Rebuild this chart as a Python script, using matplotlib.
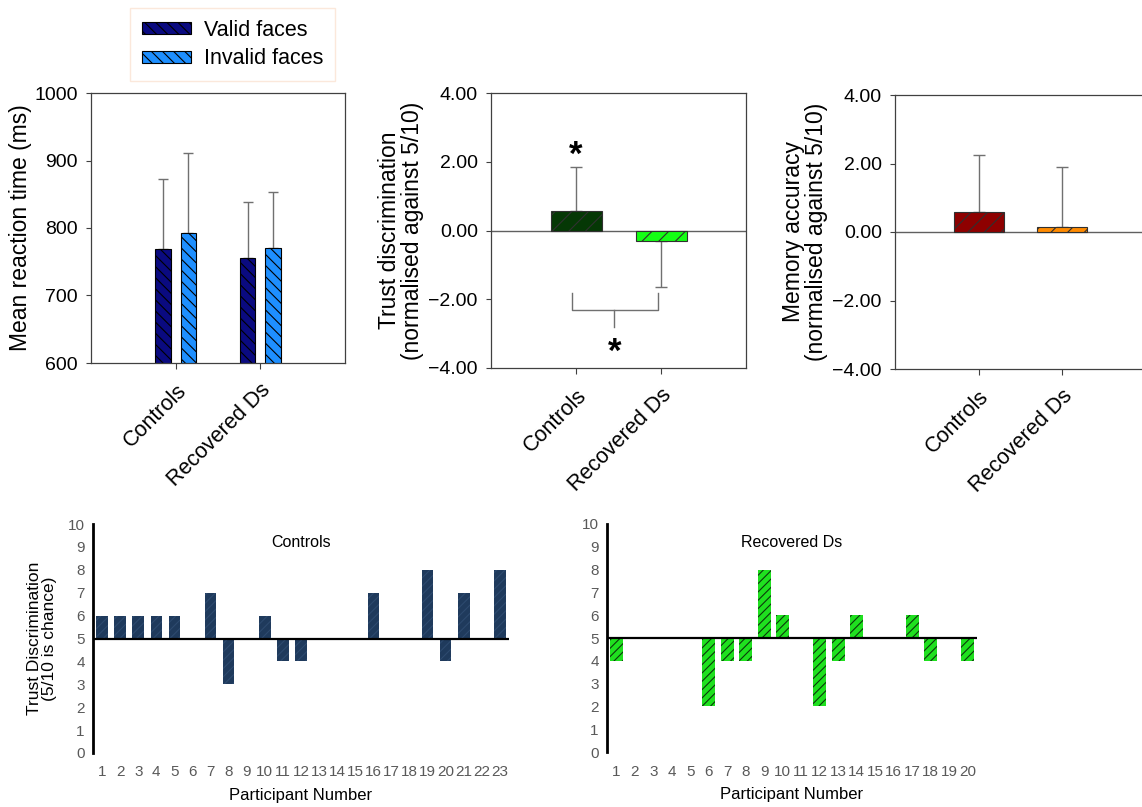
import numpy as np
import matplotlib.pyplot as plt
from matplotlib.patches import Patch

plt.rcParams['font.family'] = ['Liberation Sans', 'DejaVu Sans']
plt.rcParams['hatch.linewidth'] = 0.8

# Datos
groups = ['Controls', 'Recovered Ds']

rt_valid = [769, 756]
rt_valid_err = [104, 83]
rt_invalid = [793, 771]
rt_invalid_err = [118, 83]

trust_mean = [0.56, -0.31]
trust_err = [1.29, 1.34]

memory_mean = [0.57, 0.15]
memory_err = [1.68, 1.75]

controls_scores = [6, 6, 6, 6, 6, 5, 7, 3, 5, 6, 4, 4, 5, 5, 5, 7, 5, 5, 8, 4, 7, 5, 8]
recovered_scores = [4, 5, 5, 5, 5, 2, 4, 4, 8, 6, 5, 2, 4, 6, 5, 5, 6, 4, 5, 4]
chance = 5

SPINE = '#404040'
ERR = '#707070'


def one_sided(means, errs):
    # barras de error solo hacia fuera de la barra
    lower = [e if m < 0 else 0 for m, e in zip(means, errs)]
    upper = [0 if m < 0 else e for m, e in zip(means, errs)]
    return [lower, upper]


def style_top(ax):
    for s in ax.spines.values():
        s.set_color(SPINE)
        s.set_linewidth(0.9)
    ax.tick_params(axis='both', direction='out', color=SPINE, length=3.5,
                   labelsize=14, pad=6)
    ax.tick_params(axis='x', length=4, pad=8, labelsize=15.5)
    ax.set_xticks(range(len(groups)), groups, rotation=45, ha='right',
                  rotation_mode='anchor')


fig = plt.figure(figsize=(11.42, 8.07), dpi=100)
W, H = 1142, 807


def add_axes(left, top, right, bottom):
    return fig.add_axes([left / W, 1 - bottom / H, (right - left) / W, (bottom - top) / H])


# ---- Panel 1: tiempos de reaccion ----
ax1 = add_axes(91, 93, 345, 363)
x = np.arange(len(groups))
ax1.bar(x - 0.15, rt_valid, 0.18, color='#0a0a80', edgecolor='black',
        linewidth=0.8, hatch='\\\\\\', zorder=2)
ax1.bar(x + 0.15, rt_invalid, 0.18, color='#1e8fff', edgecolor='black',
        linewidth=0.8, hatch='\\\\\\', zorder=2)
ax1.errorbar(x - 0.15, rt_valid, yerr=[[0, 0], rt_valid_err], fmt='none',
             ecolor=ERR, elinewidth=1, capsize=3.5, capthick=1, zorder=1)
ax1.errorbar(x + 0.15, rt_invalid, yerr=[[0, 0], rt_invalid_err], fmt='none',
             ecolor=ERR, elinewidth=1, capsize=3.5, capthick=1, zorder=1)
ax1.set_xlim(-1, 2)
ax1.set_ylim(600, 1000)
ax1.set_yticks([600, 700, 800, 900, 1000])
style_top(ax1)
ax1.set_ylabel('Mean reaction time (ms)', fontsize=16.5, labelpad=2)

handles = [Patch(facecolor='#0a0a80', edgecolor='black', hatch='\\\\\\', linewidth=0.8),
           Patch(facecolor='#1e8fff', edgecolor='black', hatch='\\\\\\', linewidth=0.8)]
leg = fig.legend(handles, ['Valid faces', 'Invalid faces'], loc='upper left',
                 bbox_to_anchor=(130 / W, 1 - 8 / H), borderaxespad=0, fontsize=15.5,
                 handlelength=2.3, handleheight=0.5, labelspacing=0.35,
                 handletextpad=0.6, borderpad=0.55, fancybox=False)
leg.get_frame().set_edgecolor('#fbe3d2')
leg.get_frame().set_linewidth(1)

# ---- Panel 2: discriminacion de confianza ----
ax2 = add_axes(491, 93, 746, 368)
ax2.bar(x, trust_mean, 0.6, color=['#053805', '#14ff14'], edgecolor='#303030',
        linewidth=0.8, hatch='//', zorder=2)
ax2.errorbar(x, trust_mean, yerr=one_sided(trust_mean, trust_err), fmt='none',
             ecolor=ERR, elinewidth=1, capsize=4, capthick=1, zorder=1)
ax2.axhline(0, color='#606060', linewidth=1, zorder=1)
ax2.set_xlim(-1, 2)
ax2.set_ylim(-4, 4)
ax2.set_yticks([-4, -2, 0, 2, 4])
ax2.yaxis.set_major_formatter('{x:.2f}')
style_top(ax2)
ax2.set_ylabel('Trust discrimination\n(normalised against 5/10)', fontsize=16.5,
               labelpad=3, linespacing=1.0)
# asterisco y corchete de significacion
ax2.text(0, 2.2, '*', ha='center', va='center', fontsize=25, fontweight='bold')
ax2.plot([-0.05, -0.05, 0.96, 0.96], [-1.83, -2.32, -2.32, -1.83], color=ERR, lw=1)
ax2.plot([0.45, 0.45], [-2.32, -2.82], color=ERR, lw=1)
ax2.text(0.45, -3.55, '*', ha='center', va='center', fontsize=25, fontweight='bold')

# ---- Panel 3: precision de memoria ----
ax3 = add_axes(895, 95, 1150, 369)
ax3.bar(x, memory_mean, 0.6, color=['#8e0000', '#ff8a00'], edgecolor='#303030',
        linewidth=0.8, hatch='//', zorder=2)
ax3.errorbar(x, memory_mean, yerr=one_sided(memory_mean, memory_err), fmt='none',
             ecolor=ERR, elinewidth=1, capsize=4, capthick=1, zorder=1)
ax3.axhline(0, color='#606060', linewidth=1, zorder=1)
ax3.set_xlim(-1, 2.05)
ax3.set_ylim(-4, 4)
ax3.set_yticks([-4, -2, 0, 2, 4])
ax3.yaxis.set_major_formatter('{x:.2f}')
style_top(ax3)
ax3.set_ylabel('Memory accuracy\n(normalised against 5/10)', fontsize=16.5,
               labelpad=3, linespacing=1.0)


# ---- Paneles inferiores: participantes ----
def participants(ax, scores, color, hatch_color, title, width):
    n = np.arange(1, len(scores) + 1)
    diffs = [s - chance for s in scores]
    ax.bar(n, diffs, width, bottom=chance, color=color, edgecolor=hatch_color,
           linewidth=0, hatch='////', zorder=2)
    ax.axhline(chance, color='black', linewidth=1.6, zorder=3)
    ax.set_xlim(0.5, len(scores) + 0.5)
    ax.set_ylim(0, 10)
    ax.set_yticks(range(0, 11))
    ax.set_xticks(n)
    for s in ['top', 'right', 'bottom']:
        ax.spines[s].set_visible(False)
    ax.spines['left'].set_linewidth(2)
    ax.spines['left'].set_color('black')
    ax.tick_params(axis='both', length=0, labelsize=11, labelcolor='#595959')
    ax.tick_params(axis='y', pad=6)
    ax.tick_params(axis='x', pad=9)
    ax.set_xlabel('Participant Number', fontsize=12, labelpad=6)
    ax.text(0.5, 0.95, title, transform=ax.transAxes, ha='center', va='top',
            fontsize=11.5)


ax4 = add_axes(93, 524, 509, 753)
participants(ax4, controls_scores, '#1f3a5c', '#2d4a6e', 'Controls', 0.64)
ax4.set_ylabel('Trust Discrimination\n(5/10 is chance)', fontsize=12.5,
               labelpad=8, linespacing=1.0)

ax5 = add_axes(607, 524, 977, 752)
participants(ax5, recovered_scores, '#1fe01f', '#0a3a0a', 'Recovered Ds', 0.7)

fig.savefig('out.png', dpi=100)
